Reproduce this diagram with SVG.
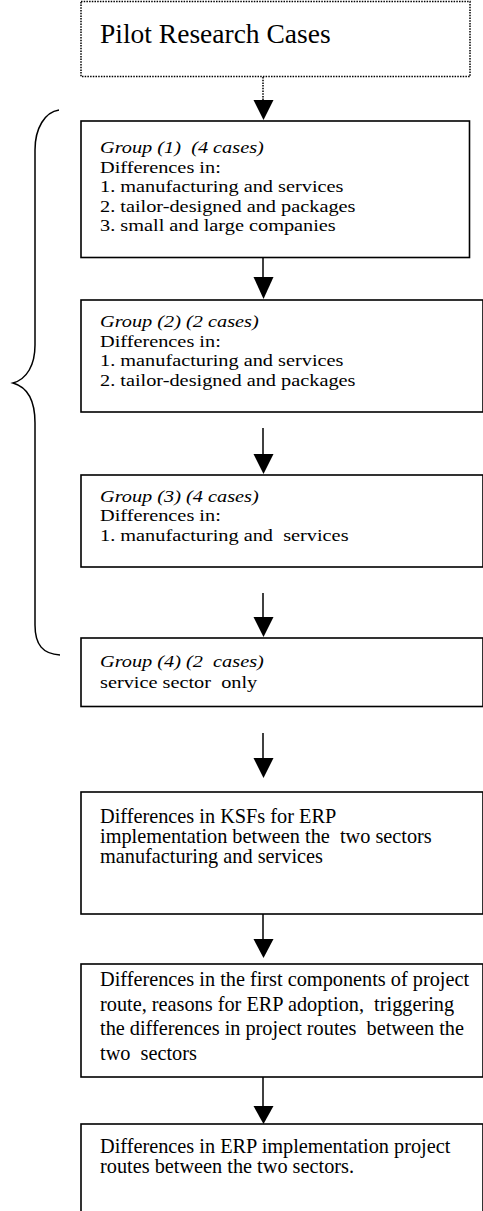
<svg xmlns="http://www.w3.org/2000/svg" width="483" height="1211" viewBox="0 0 483 1211">
<style>
.box{fill:#fff;stroke:#000;stroke-width:1.6}
.dot{fill:#fff;stroke:#000;stroke-width:1.5;stroke-dasharray:1.5 1.2}
text{font-family:"Liberation Serif","Times New Roman",serif;fill:#000;white-space:pre}
.t{font-size:20.3px}
.g{font-size:16px}
.i{font-style:italic}
.ln{stroke:#000;stroke-width:1.5;fill:none}
.hd{fill:#000}
</style>
<rect width="483" height="1211" fill="#fff"/>
<g id="brace">
<path class="ln" d="M59,110 C45,112 35,128 35,150 L35,345 C35,365 27,379 13,383 C27,387 35,400 35,423 L35,625 C35,645 43,654 60,655"/>
</g>
<g id="connectors">
<line x1="263" y1="77" x2="263" y2="101" stroke="#000" stroke-width="1.5" stroke-dasharray="1.5 1.2"/>
<polygon class="hd" points="253.5,100 273.5,100 263.5,120"/>
<line class="ln" x1="263" y1="258" x2="263" y2="278"/>
<polygon class="hd" points="253.5,277 273.5,277 263.5,299"/>
<line class="ln" x1="263" y1="428" x2="263" y2="455"/>
<polygon class="hd" points="253.5,454 273.5,454 263.5,474"/>
<line class="ln" x1="263" y1="593" x2="263" y2="618"/>
<polygon class="hd" points="253.5,617 273.5,617 263.5,637"/>
<line class="ln" x1="263" y1="733" x2="263" y2="759"/>
<polygon class="hd" points="253.5,758 273.5,758 263.5,778"/>
<line class="ln" x1="263" y1="914" x2="263" y2="940"/>
<polygon class="hd" points="253.5,939 273.5,939 263.5,958"/>
<line class="ln" x1="263" y1="1077" x2="263" y2="1107"/>
<polygon class="hd" points="253.5,1106 273.5,1106 263.5,1124"/>
</g>
<g id="pilot">
<rect class="dot" x="81" y="1.5" width="389" height="75"/>
<text x="100" y="43" style="font-size:27.5px">Pilot Research Cases</text>
</g>
<g id="group1">
<rect class="box" x="81" y="121" width="388.5" height="136.5"/>
<text class="g i" transform="matrix(1.27 0 0 1 100 152.5)">Group (1)  (4 cases)</text>
<text class="g" transform="matrix(1.27 0 0 1 100 172.5)">Differences in:</text>
<text class="g" transform="matrix(1.27 0 0 1 100 192)">1. manufacturing and services</text>
<text class="g" transform="matrix(1.27 0 0 1 100 211.5)">2. tailor-designed and packages</text>
<text class="g" transform="matrix(1.27 0 0 1 100 231)">3. small and large companies</text>
</g>
<g id="group2">
<rect class="box" x="81" y="300" width="402" height="112"/>
<text class="g i" transform="matrix(1.27 0 0 1 100 327)">Group (2) (2 cases)</text>
<text class="g" transform="matrix(1.27 0 0 1 100 346.5)">Differences in:</text>
<text class="g" transform="matrix(1.27 0 0 1 100 366)">1. manufacturing and services</text>
<text class="g" transform="matrix(1.27 0 0 1 100 385.5)">2. tailor-designed and packages</text>
</g>
<g id="group3">
<rect class="box" x="81" y="475" width="402" height="92"/>
<text class="g i" transform="matrix(1.27 0 0 1 100 502)">Group (3) (4 cases)</text>
<text class="g" transform="matrix(1.27 0 0 1 100 521)">Differences in:</text>
<text class="g" transform="matrix(1.27 0 0 1 100 540.5)">1. manufacturing and  services</text>
</g>
<g id="group4">
<rect class="box" x="81" y="638" width="402" height="68.5"/>
<text class="g i" transform="matrix(1.27 0 0 1 100 667)">Group (4) (2  cases)</text>
<text class="g" transform="matrix(1.27 0 0 1 100 688)">service sector  only</text>
</g>
<g id="ksf">
<rect class="box" x="81" y="792" width="402" height="122"/>
<text class="t" x="100" y="822.5">Differences in KSFs for ERP</text>
<text class="t" x="100" y="842.5">implementation between the  two sectors</text>
<text class="t" x="100" y="862.5">manufacturing and services</text>
</g>
<g id="components">
<rect class="box" x="81" y="964" width="402" height="113"/>
<text class="t" x="100" y="986">Differences in the first components of project</text>
<text class="t" x="100" y="1010.5">route, reasons for ERP adoption,  triggering</text>
<text class="t" x="100" y="1035">the differences in project routes  between the</text>
<text class="t" x="100" y="1059.5">two  sectors</text>
</g>
<g id="routes">
<rect class="box" x="81" y="1124" width="402" height="100"/>
<text class="t" x="100" y="1153">Differences in ERP implementation project</text>
<text class="t" x="100" y="1173">routes between the two sectors.</text>
</g>
</svg>
